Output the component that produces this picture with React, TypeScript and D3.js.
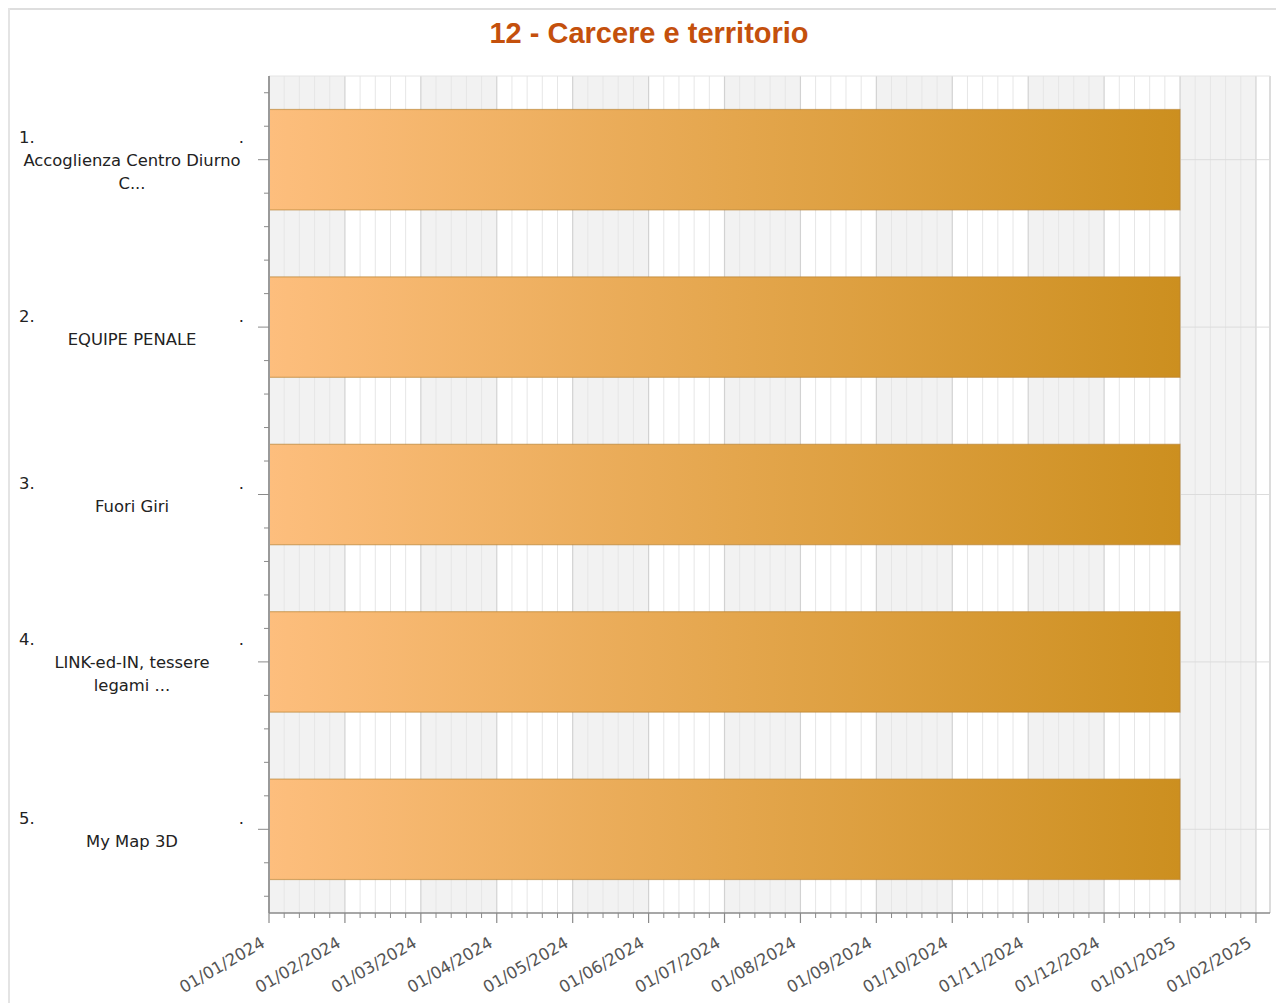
import React from "react";
import * as d3 from "d3";

const title = "12 - Carcere e territorio";
const categories = ["1.", "2.", "3.", "4.", "5."];
const categoryLines = [
  ["Accoglienza Centro Diurno", "C..."],
  ["EQUIPE PENALE"],
  ["Fuori Giri"],
  ["LINK-ed-IN, tessere", "legami ..."],
  ["My Map 3D"],
];
const startDates = ["01/01/2024", "01/01/2024", "01/01/2024", "01/01/2024", "01/01/2024"];
const endDates = ["01/01/2025", "01/01/2025", "01/01/2025", "01/01/2025", "01/01/2025"];
const tickLabels = [
  "01/01/2024", "01/02/2024", "01/03/2024", "01/04/2024", "01/05/2024", "01/06/2024",
  "01/07/2024", "01/08/2024", "01/09/2024", "01/10/2024", "01/11/2024", "01/12/2024",
  "01/01/2025", "01/02/2025",
];

const W = 1276;
const H = 1003;
const M = { left: 269, right: 1270, top: 76, bottom: 913 };
const FONT = "'DejaVu Sans', Verdana, sans-serif";

function monthIndex(s: string) {
  const [, m, y] = s.split("/").map(Number);
  return (y - 2024) * 12 + (m - 1);
}

export default function App() {
  const x = d3.scaleLinear().domain([0, 13.185]).range([M.left, M.right]);
  const y = d3
    .scaleBand<string>()
    .domain(categories)
    .range([M.top, M.bottom])
    .paddingInner(0.4)
    .paddingOuter(0.2);
  const step = y.step();

  const majors = d3.range(0, 14);
  const minors = d3.range(0, 13.2, 0.2).map((v) => Math.round(v * 10) / 10).filter((v) => Math.abs(v - Math.round(v)) > 1e-6);
  const yTicks = d3.range(0, 25).map((k) => M.top + (step / 5) * (k + 0.5));

  return (
    <svg width={W} height={H} style={{ position: "absolute", left: 0, top: 0 }} fontFamily={FONT}>
      <defs>
        <linearGradient id="barGrad" gradientUnits="userSpaceOnUse" x1={x(0)} x2={x(12)} y1={0} y2={0}>
          <stop offset="0%" stopColor="#fdbe7d" />
          <stop offset="100%" stopColor="#cc8f1f" />
        </linearGradient>
      </defs>
      <rect x={0} y={0} width={W} height={H} fill="#fff" />
      {/* frame */}
      <line x1={8} x2={W} y1={9} y2={9} stroke="#dedede" strokeWidth={2} />
      <line x1={9} x2={9} y1={8} y2={H} stroke="#e4e4e4" strokeWidth={2} />

      <text x={649} y={43} textAnchor="middle" fontFamily="'Liberation Sans', Arial, sans-serif" fontWeight="bold" fontSize={29} fill="#c4500c">
        {title}
      </text>

      {/* alternating bands */}
      {majors.map((m) =>
        m % 2 === 0 ? (
          <rect key={"b" + m} x={x(m)} y={M.top} width={Math.min(x(m + 1), M.right) - x(m)} height={M.bottom - M.top} fill="#f2f2f2" />
        ) : null
      )}
      {/* minor gridlines */}
      {minors.map((v) => (
        <line key={"mg" + v} x1={x(v)} x2={x(v)} y1={M.top} y2={M.bottom} stroke="#e6e6e6" strokeWidth={1} />
      ))}
      {majors.map((m) => (
        <line key={"Mg" + m} x1={x(m)} x2={x(m)} y1={M.top} y2={M.bottom} stroke="#d2d2d2" strokeWidth={1.2} />
      ))}
      <line x1={M.right} x2={M.right} y1={M.top} y2={M.bottom} stroke="#d0d0d0" strokeWidth={1.5} />
      <line x1={M.left} x2={M.right} y1={M.top} y2={M.top} stroke="#e4e4e4" strokeWidth={1} />
      {/* horizontal gridlines at categories */}
      {categories.map((c) => (
        <line key={"hg" + c} x1={M.left} x2={M.right} y1={(y(c) as number) + y.bandwidth() / 2} y2={(y(c) as number) + y.bandwidth() / 2} stroke="#dcdcdc" strokeWidth={1} />
      ))}

      {/* bars */}
      {categories.map((c, i) => {
        const x0 = x(monthIndex(startDates[i]));
        const x1 = x(monthIndex(endDates[i]));
        return (
          <rect key={"bar" + c} x={x0} y={y(c)} width={x1 - x0} height={y.bandwidth()} fill="url(#barGrad)" stroke="#b98230" strokeOpacity={0.6} strokeWidth={1.2} />
        );
      })}

      {/* y axis */}
      <line x1={M.left} x2={M.left} y1={M.top} y2={M.bottom} stroke="#9a9a9a" strokeWidth={2} />
      {yTicks.map((t, k) => (
        <line key={"yt" + k} x1={k % 5 === 2 ? M.left - 11 : M.left - 5} x2={M.left} y1={t} y2={t} stroke="#8a8a8a" strokeWidth={1} />
      ))}
      {categories.map((c, i) => {
        const lines = [c, ...categoryLines[i]];
        const lh = 23;
        const cy = (y(c) as number) + y.bandwidth() / 2;
        const top = cy - ((lines.length - 1) * lh) / 2;
        return (
          <g key={"yl" + c} fontSize={16.4} fill="#222">
            <text x={19} y={top + 6}>{c}</text>
            <text x={244} y={top + 6} textAnchor="end">.</text>
            {categoryLines[i].map((l, j) => (
              <text key={j} x={132} y={top + (j + 1) * lh + 6} textAnchor="middle">
                {l}
              </text>
            ))}
          </g>
        );
      })}

      {/* x axis */}
      <line x1={M.left} x2={M.right} y1={M.bottom} y2={M.bottom} stroke="#8a8a8a" strokeWidth={1.5} />
      {minors.map((v) => (
        <line key={"xt" + v} x1={x(v)} x2={x(v)} y1={M.bottom} y2={M.bottom + 5} stroke="#8a8a8a" strokeWidth={1} />
      ))}
      {majors.map((m) => (
        <line key={"XT" + m} x1={x(m)} x2={x(m)} y1={M.bottom} y2={M.bottom + 10} stroke="#8a8a8a" strokeWidth={1.2} />
      ))}
      {tickLabels.map((l, m) => (
        <text key={"xl" + m} transform={`translate(${x(m) - 3},${M.bottom + 33}) rotate(-30)`} textAnchor="end" fontSize={16.5} fill="#555">
          {l}
        </text>
      ))}
    </svg>
  );
}
